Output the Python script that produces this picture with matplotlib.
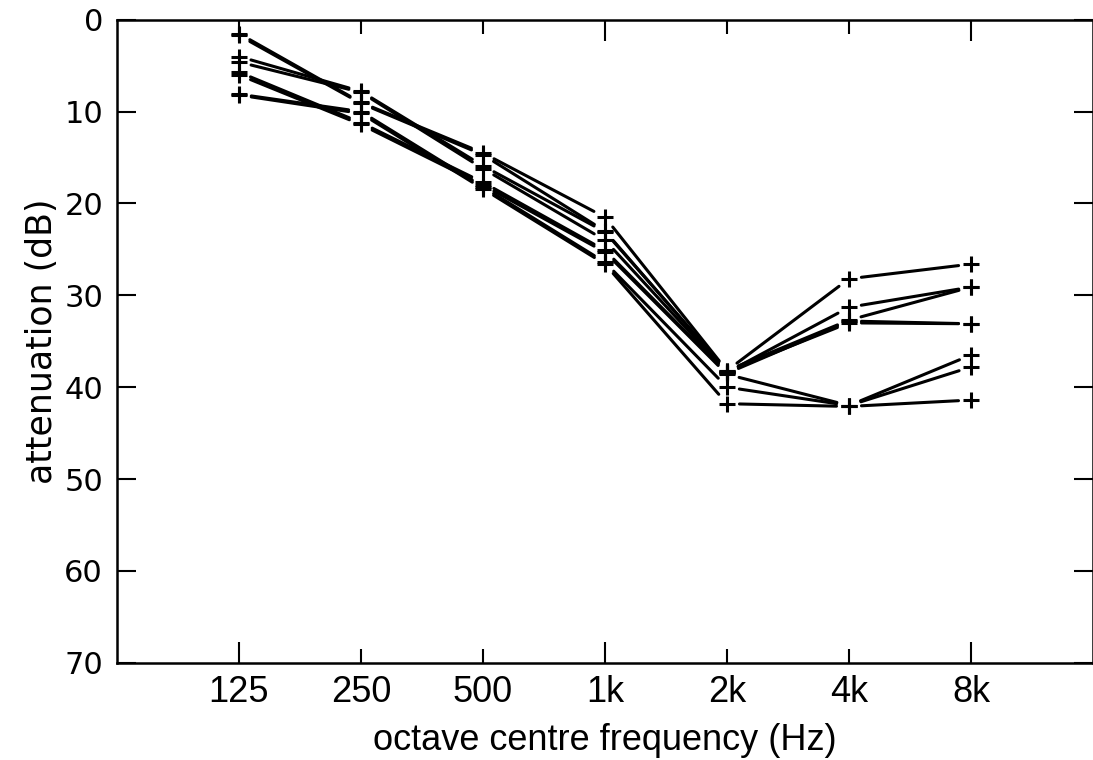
import numpy as np
import matplotlib.pyplot as plt

# octave bands and attenuation for each measured item (dB)
bands = ['125', '250', '500', '1k', '2k', '4k', '8k']
att_a = [1.5, 9.0, 14.5, 21.5, 38.2, 32.7, 29.1]
att_b = [1.7, 9.1, 14.7, 23.0, 38.3, 33.0, 33.1]
att_c = [4.0, 7.8, 15.9, 23.1, 38.2, 28.2, 26.6]
att_d = [4.6, 7.9, 16.2, 24.0, 38.4, 31.3, 29.1]
att_e = [5.7, 11.2, 17.7, 25.1, 38.5, 32.8, 33.1]
att_f = [6.0, 11.4, 18.0, 25.3, 38.6, 42.0, 36.5]
att_g = [8.1, 10.0, 18.2, 26.4, 40.0, 42.0, 37.8]
att_h = [8.2, 10.2, 18.4, 26.6, 41.8, 42.1, 41.4]
series = [att_a, att_b, att_c, att_d, att_e, att_f, att_g, att_h]

x = np.arange(1, len(bands) + 1)

fig = plt.figure(figsize=(10.93, 7.6), dpi=100)
ax = fig.add_axes([0.107, 0.128, 0.893, 0.846])

for s in series:
    ax.plot(x, s, linestyle='none', marker='+', ms=11, mew=2.2, color='black')
    # segments stop short of the markers, as in the original plot
    for i in range(len(x) - 1):
        ax.annotate('', xy=(x[i + 1], s[i + 1]), xytext=(x[i], s[i]),
                    arrowprops=dict(arrowstyle='-', lw=2.2, color='black',
                                    shrinkA=9, shrinkB=9))

ax.set_xlim(0, 8)
ax.set_ylim(70, 0)

ax.set_yticks(np.arange(0, 71, 10))
ax.set_yticklabels([str(v) for v in range(0, 71, 10)],
                   fontsize=22, family='DejaVu Sans')

major = [0, 3, 6]
minor = [1, 2, 4, 5]
ax.set_xticks(x[major], [bands[i] for i in major])
ax.set_xticks(x[minor], [bands[i] for i in minor], minor=True)
for lab in ax.get_xticklabels(which='both'):
    lab.set_family(['Liberation Sans', 'DejaVu Sans'])
    lab.set_fontsize(26)

ax.tick_params(axis='y', direction='in', length=14, width=1.5,
               left=True, right=True, pad=10)
ax.tick_params(axis='x', which='major', direction='in', length=15, width=1.5,
               top=True, pad=9)
ax.tick_params(axis='x', which='minor', direction='in', length=10, width=1.5,
               top=True, pad=9)

for sp in ax.spines.values():
    sp.set_linewidth(1.8)

ax.set_xlabel('octave centre frequency (Hz)', fontsize=26,
              family=['Liberation Sans', 'DejaVu Sans'], labelpad=9)
ax.set_ylabel('attenuation (dB)', fontsize=25, family='DejaVu Sans',
              labelpad=4)

fig.savefig('out.png', dpi=100)
